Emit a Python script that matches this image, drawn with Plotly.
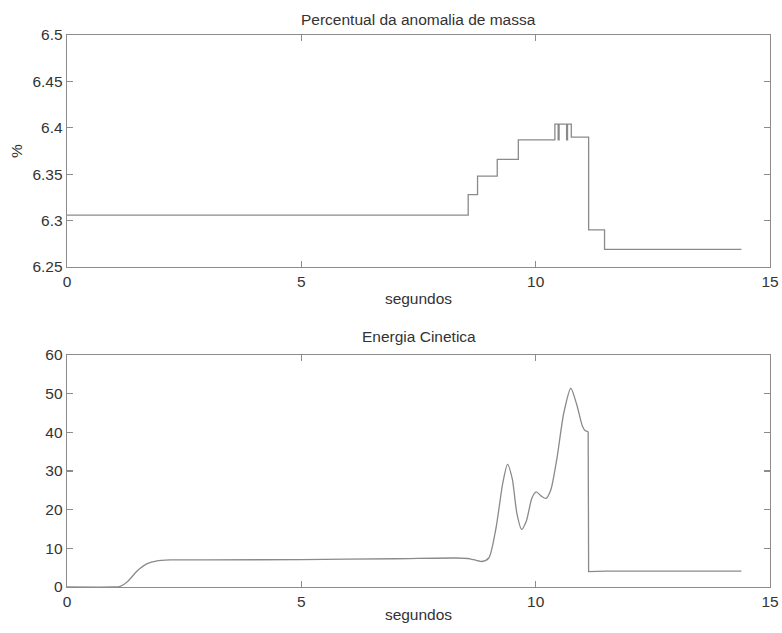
import plotly.graph_objects as go
from plotly.subplots import make_subplots

# ---- data: Percentual da anomalia de massa (step signal, held until next time) ----
mass_t = [0.0, 8.56, 8.76, 9.18, 9.63, 10.41, 10.48, 10.50, 10.66, 10.68, 10.76, 11.13, 11.47, 14.39]
mass_v = [6.306, 6.328, 6.348, 6.366, 6.387, 6.404, 6.387, 6.404, 6.387, 6.404, 6.390, 6.290, 6.269, 6.269]

# ---- data: Energia Cinetica ----
ek_t = [0.0, 1.0, 1.12, 1.3, 1.5, 1.7, 1.9, 2.2, 3.0, 5.0, 7.0, 8.3, 8.6, 8.85, 9.0, 9.15,
        9.3, 9.4, 9.5, 9.6, 9.7, 9.8, 9.92, 10.01, 10.12, 10.22, 10.32, 10.45, 10.6, 10.75,
        10.88, 11.0, 11.06, 11.12]
ek_v = [0.0, 0.0, 0.1, 1.5, 4.2, 6.0, 6.7, 7.0, 7.0, 7.1, 7.3, 7.5, 7.3, 6.6, 7.5, 15.0,
        27.0, 31.7, 28.0, 19.0, 14.9, 17.0, 23.0, 24.6, 23.5, 22.9, 25.0, 33.0, 45.0, 51.4,
        47.0, 41.5, 40.4, 40.2]
ek_tail_t = [11.12, 11.13, 11.5, 14.39]
ek_tail_v = [40.2, 4.0, 4.1, 4.1]

x_ticks = [0, 5, 10, 15]
mass_ticks = [6.25, 6.3, 6.35, 6.4, 6.45, 6.5]
ek_ticks = [0, 10, 20, 30, 40, 50, 60]

LINE = "#8a8a8a"
AX = "#8c8c8c"
TXT = "#333333"
FONT = "Liberation Sans, Arial, sans-serif"
FS = 15.5

fig = make_subplots(rows=2, cols=1, vertical_spacing=0.0)

fig.add_trace(go.Scatter(x=mass_t, y=mass_v, mode="lines", line=dict(color=LINE, width=1.3, shape="hv"),
                         showlegend=False, hoverinfo="skip"), row=1, col=1)
fig.add_trace(go.Scatter(x=ek_t, y=ek_v, mode="lines",
                         line=dict(color=LINE, width=1.3, shape="spline", smoothing=0.7),
                         showlegend=False, hoverinfo="skip"), row=2, col=1)
fig.add_trace(go.Scatter(x=ek_tail_t, y=ek_tail_v, mode="lines", line=dict(color=LINE, width=1.3),
                         showlegend=False, hoverinfo="skip"), row=2, col=1)

W, H = 782, 633
top_px, bot_px = 35, 587
plot_h = bot_px - top_px
dom_top = [(bot_px - 267) / plot_h, 1.0]
dom_bot = [0.0, (bot_px - 355) / plot_h]

axis_common = dict(showline=True, linecolor=AX, linewidth=1.3, mirror="ticks", ticks="inside",
                   ticklen=6, tickcolor=AX, tickwidth=1.2, showgrid=False, zeroline=False,
                   automargin=False, tickfont=dict(family=FONT, size=FS, color=TXT))

fig.update_xaxes(range=[0, 15], tickvals=x_ticks, ticktext=[str(v) for v in x_ticks],
                 title=dict(text="segundos", font=dict(family=FONT, size=FS, color=TXT), standoff=4),
                 ticklabelstandoff=0, **axis_common)
fig.update_xaxes(title_standoff=0, row=2, col=1)
fig.update_yaxes(**axis_common)
fig.update_yaxes(range=[6.25, 6.5], tickvals=mass_ticks, ticktext=["6.25", "6.3", "6.35", "6.4", "6.45", "6.5"],
                 domain=dom_top, title=dict(text="%", font=dict(family=FONT, size=FS, color=TXT), standoff=6),
                 row=1, col=1)
fig.update_yaxes(range=[0, 60], tickvals=ek_ticks, ticktext=[str(v) for v in ek_ticks],
                 domain=dom_bot, row=2, col=1)

fig.add_annotation(text="Percentual da anomalia de massa", x=0.5, xref="paper", y=1.0, yref="paper",
                   yanchor="middle", yshift=16, showarrow=False,
                   font=dict(family=FONT, size=FS, color=TXT))
fig.add_annotation(text="Energia Cinetica", x=0.5, xref="paper", y=dom_bot[1], yref="paper",
                   yanchor="middle", yshift=19, showarrow=False,
                   font=dict(family=FONT, size=FS, color=TXT))

fig.update_layout(width=W, height=H, margin=dict(l=67, r=W - 770, t=top_px, b=H - bot_px),
                  paper_bgcolor="white", plot_bgcolor="white", hovermode=False)

fig.write_html("out.html", config={"displayModeBar": False, "staticPlot": True},
               post_script="document.body.style.margin='0px';"
                           "document.documentElement.style.overflow='hidden';")
